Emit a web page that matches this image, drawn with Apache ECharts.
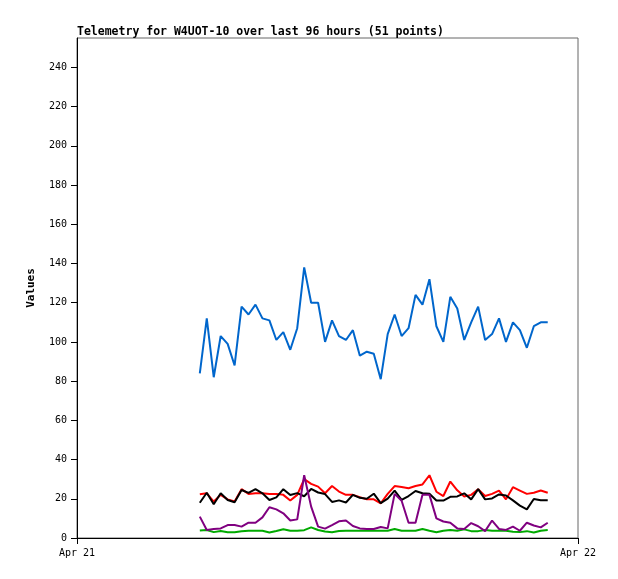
<!DOCTYPE html>
<html>
<head>
<meta charset="utf-8">
<script src="https://cdn.jsdelivr.net/npm/echarts@6/dist/echarts.min.js"></script>
<style>
  body { margin: 0; background: #fff; }
  #chart { width: 618px; height: 579px; }
</style>
</head>
<body>
<div id="chart"></div>
<script>
// sample times on Apr 21 (one point every 20 min)
const times = ['05:53', '06:13', '06:33', '06:53', '07:13', '07:33', '07:53', '08:13', '08:33', '08:53',
  '09:13', '09:33', '09:53', '10:13', '10:33', '10:53', '11:13', '11:33', '11:53', '12:13',
  '12:33', '12:53', '13:13', '13:33', '13:53', '14:13', '14:33', '14:53', '15:13', '15:33',
  '15:53', '16:13', '16:33', '16:53', '17:13', '17:33', '17:53', '18:13', '18:33', '18:53',
  '19:13', '19:33', '19:53', '20:13', '20:33', '20:53', '21:13', '21:33', '21:53', '22:13', '22:33']

const blue = [84, 112, 82, 103, 99, 88, 118, 114, 119, 112, 111, 101, 105, 96, 107, 138, 120, 120, 100, 111,
  103, 101, 106, 93, 95, 94, 81, 104, 114, 103, 107, 124, 119, 132, 108, 100, 123, 117, 101, 110,
  118, 101, 104, 112, 100, 110, 106, 97, 108, 110, 110]
const red = [22.3, 22.8, 18.6, 22, 19.7, 18.6, 24.9, 22.5, 22.8, 22.8, 22.5, 22.5, 22, 19.1, 22, 30, 27.6, 26.2, 22.8, 26.5,
  23.7, 22, 22, 20.8, 19.7, 19.7, 17.7, 22.5, 26.5, 26, 25.4, 26.5, 27.3, 32, 23.6, 21.4, 28.8, 24.3, 21.2, 22,
  24.9, 21.4, 22.5, 24.2, 19.7, 25.9, 24.2, 22.5, 23.1, 24.2, 23.1]
const black = [18, 23.1, 17.2, 22.8, 19.4, 18.2, 24.5, 23, 24.9, 22.8, 19.4, 20.7, 24.9, 21.9, 22.9, 21.3, 25, 23.2, 22.4, 18.4,
  19.2, 18.1, 22, 20.5, 20, 22.6, 17.8, 20.1, 24.2, 19.4, 21.4, 24, 22.8, 22.6, 19.1, 19.1, 21, 21.2, 22.8, 19.7,
  24.9, 19.7, 20.2, 22.2, 21.7, 19.2, 16.5, 14.6, 19.9, 19.2, 19.2]
const purple = [10.9, 4.1, 4.6, 4.9, 6.6, 6.6, 5.8, 7.8, 7.8, 10.5, 15.7, 14.6, 12.6, 8.9, 9.5, 32, 16, 5.8, 4.8, 6.6,
  8.5, 8.9, 6.1, 4.9, 4.6, 4.6, 5.6, 4.9, 22.5, 19, 7.8, 7.8, 22, 22, 10, 8.4, 7.8, 4.9, 4.6, 7.6,
  6, 3.5, 8.9, 4.6, 4.1, 5.8, 3.7, 7.8, 6.4, 5.4, 7.8]
const green = [3.8, 4.1, 3, 3.6, 2.9, 2.9, 3.4, 3.7, 3.7, 3.7, 2.8, 3.6, 4.5, 3.7, 3.7, 4, 5.4, 4.1, 3.3, 2.9,
  3.6, 3.7, 3.7, 3.7, 3.7, 3.7, 3.7, 3.7, 4.6, 3.7, 3.7, 3.7, 4.6, 3.7, 2.9, 3.7, 4.1, 3.7, 4.4, 3.5,
  3.5, 4.1, 3.7, 3.7, 3.7, 3.2, 3, 3.5, 2.8, 3.7, 4.1]

const yTicks = [0, 20, 40, 60, 80, 100, 120, 140, 160, 180, 200, 220, 240]
const xTickLabels = ['Apr 21', 'Apr 22']

const mono = '"DejaVu Sans Mono", monospace'

// "HH:MM" -> hours since midnight Apr 21
const toHours = t => {
  const [h, m] = t.split(':').map(Number)
  return h + m / 60
}
const pairs = vals => times.map((t, i) => [toHours(t), vals[i]])

const line = (name, color, vals) => ({
  name,
  type: 'line',
  showSymbol: false,
  silent: true,
  lineStyle: { color, width: 2 },
  data: pairs(vals),
})

const chart = echarts.init(document.getElementById('chart'))

chart.setOption({
  animation: false,
  title: {
    text: 'Telemetry for W4UOT-10 over last 96 hours (51 points)',
    left: 77,
    top: 26,
    padding: 0,
    textStyle: { fontFamily: mono, fontSize: 11.5, fontWeight: 'bold', color: '#000' },
  },
  grid: {
    left: 77,
    right: 40,
    top: 38,
    bottom: 41,
    show: true,
    borderColor: '#666',
    borderWidth: 1,
  },
  xAxis: {
    type: 'value',
    min: 0,
    max: 24,
    interval: 24,
    axisLine: { lineStyle: { color: '#000', width: 1 } },
    axisTick: { length: 6, lineStyle: { color: '#000' } },
    axisLabel: {
      margin: 10,
      color: '#000',
      fontFamily: mono,
      fontSize: 10,
      formatter: v => xTickLabels[Math.round(v / 24)],
    },
    splitLine: { show: false },
  },
  yAxis: {
    type: 'value',
    min: 0,
    max: 255,
    name: 'Values',
    nameLocation: 'middle',
    nameGap: 40,
    nameTextStyle: { fontFamily: mono, fontSize: 11, fontWeight: 'bold', color: '#000' },
    axisLine: { show: true, lineStyle: { color: '#000', width: 1 } },
    axisTick: { show: true, length: 6, customValues: yTicks, lineStyle: { color: '#000' } },
    axisLabel: { margin: 10, color: '#000', fontFamily: mono, fontSize: 10, customValues: yTicks },
    splitLine: { show: false },
  },
  series: [
    line('blue', '#0066cc', blue),
    line('red', '#ff0000', red),
    line('black', '#000000', black),
    line('green', '#00aa00', green),
    line('purple', '#800080', purple),
  ],
})
</script>
</body>
</html>
